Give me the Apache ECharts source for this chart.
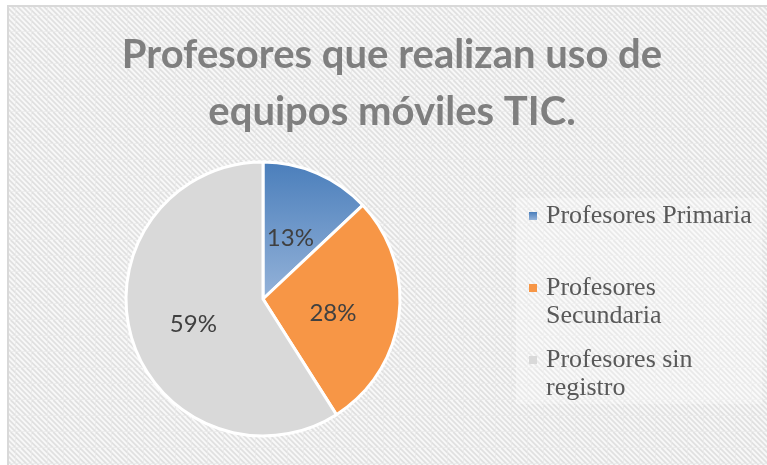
<!DOCTYPE html>
<html>
<head>
<meta charset="utf-8">
<script src="https://cdn.jsdelivr.net/npm/echarts@6/dist/echarts.min.js"></script>
<style>html,body{margin:0;padding:0;background:#fff}#c{width:767px;height:465px}</style>
</head>
<body>
<div id="c"></div>
<script>
var categories = ['Profesores Primaria', 'Profesores Secundaria', 'Profesores sin registro'];
var legendLabels = ['Profesores Primaria', 'Profesores\nSecundaria', 'Profesores sin\nregistro'];
var values = [13, 28, 59];
var titleText = 'Profesores que realizan uso de\nequipos móviles TIC.';

// background tile pattern
var tile = document.createElement('canvas');
tile.width = 16; tile.height = 16;
var g = tile.getContext('2d');
g.fillStyle = '#f8f8f8';
g.fillRect(0, 0, 16, 16);
g.strokeStyle = '#e0e0e0';
g.lineWidth = 1.8;
for (var k = -32; k <= 32; k += 16 / 3) {
  g.beginPath();
  g.moveTo(k, 0);
  g.lineTo(k + 16, 16);
  g.stroke();
}
g.fillStyle = 'rgba(232,232,232,0.7)';
g.fillRect(0, 15, 16, 1);
g.fillRect(15, 0, 1, 16);

var colors = [
  new echarts.graphic.LinearGradient(0, 0, 0, 1, [
    { offset: 0, color: '#4a7ebb' },
    { offset: 1, color: '#95b3d9' }
  ]),
  '#f79646',
  '#d9d9d9'
];

var chart = echarts.init(document.getElementById('c'), null, { renderer: 'canvas' });
chart.setOption({
  backgroundColor: '#ffffff',
  animation: false,
  graphic: [
    {
      type: 'rect', z: -10, silent: true,
      shape: { x: 8, y: 6, width: 770, height: 470 },
      style: { fill: { image: tile, repeat: 'repeat' }, stroke: '#d9d9d9', lineWidth: 2 }
    },
    {
      type: 'rect', z: -9, silent: true,
      shape: { x: 516, y: 198, width: 246, height: 206 },
      style: { fill: 'rgba(255,255,255,0.3)' }
    }
  ],
  title: {
    text: titleText,
    left: 392,
    top: 27,
    padding: 0,
    textAlign: 'center',
    textStyle: {
      fontFamily: 'Lato',
      fontWeight: 'bold',
      fontSize: 40,
      lineHeight: 57,
      color: '#7f7f7f'
    }
  },
  legend: {
    orient: 'vertical',
    left: 529,
    top: 174,
    padding: 0,
    itemGap: -12,
    itemWidth: 8,
    itemHeight: 8,
    icon: 'rect',
    selectedMode: false,
    data: categories,
    itemStyle: { borderWidth: 0 },
    formatter: function (name) {
      var i = categories.indexOf(name);
      var lbl = legendLabels[i];
      return lbl.indexOf('\n') >= 0 ? '\n' + lbl : '\n' + lbl + '\n';
    },
    textStyle: {
      fontFamily: 'Liberation Serif',
      fontSize: 26,
      lineHeight: 28,
      color: '#595959',
      padding: [0, 0, 0, 4]
    }
  },
  series: [{
    type: 'pie',
    center: [263, 299],
    radius: 137,
    startAngle: 90,
    clockwise: true,
    avoidLabelOverlap: false,
    itemStyle: { borderColor: '#ffffff', borderWidth: 3 },
    emphasis: { disabled: true },
    label: {
      show: true,
      position: 'inside',
      formatter: '{c}%',
      fontFamily: 'Lato',
      fontSize: 24,
      color: '#404040',
      offset: [-1, 5]
    },
    labelLine: { show: false },
    data: categories.map(function (n, i) {
      return { name: n, value: values[i], itemStyle: { color: colors[i] } };
    })
  }]
});
</script>
</body>
</html>
